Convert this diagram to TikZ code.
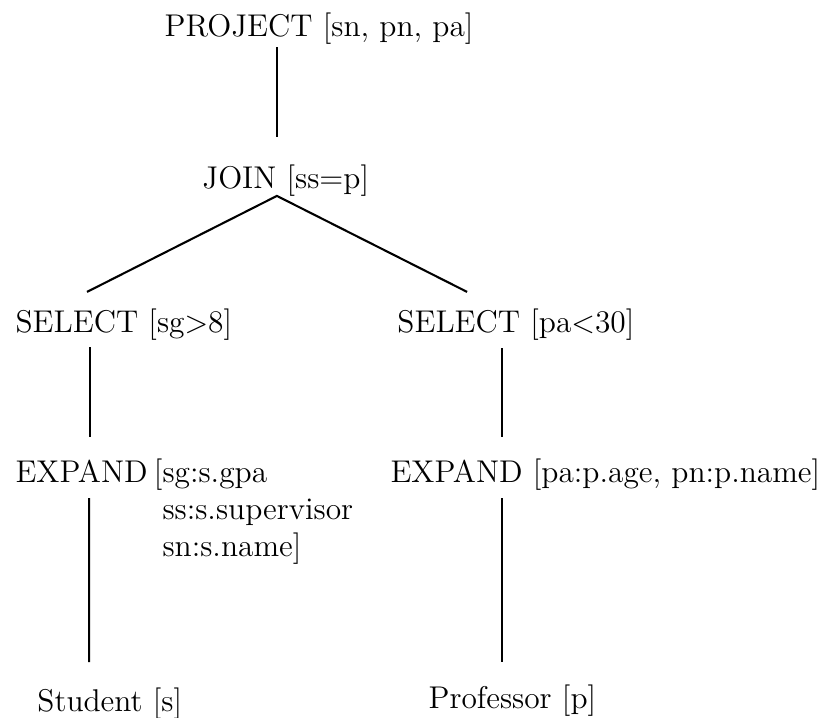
\documentclass[12pt,tikz,border=0pt]{standalone}
\usepackage{xcolor}
\usepackage{tikz}
\usetikzlibrary{calc}
\definecolor{ink}{HTML}{000000}
\tikzset{
  opnode/.style={anchor=base west,inner sep=0pt,text=ink,
                 font=\fontsize{11.35}{13.5}\selectfont},
  treeedge/.style={draw=ink,line width=0.75pt},
}

\begin{document}
\begin{tikzpicture}[x=1.083pt,y=1.083pt]
  \useasboundingbox(0,0)rectangle(275,-239);
  \node[opnode](proj)at(54.7,-12){PROJECT [sn, pn, pa]};
  \node[opnode](join)at(67.3,-62.7){JOIN [ss=p]};
  \node[opnode](sel1)at(5,-110.7){SELECT [sg$>$8]};
  \node[opnode](sel2)at(132.3,-110.7){SELECT [pa$<$30]};
  \node[opnode](exp1)at(5,-160.7){EXPAND\hspace{2.3pt}[\begin{tabular}[t]{@{}l@{}}
    sg:s.gpa\\ ss:s.supervisor\\ sn:s.name]\end{tabular}};
  \node[opnode](exp2)at(130,-160.7){EXPAND [pa:p.age, pn:p.name]};
  \node[opnode](stud)at(12.3,-237){Student [s]};
  \node[opnode](prof)at(142.7,-236.3){Professor [p]};
  \draw[treeedge]($(proj.base west)+(37.6,-3.7)$)--($(join.base west)+(25,17)$);
  \draw[treeedge]($(sel1.base west)+(24,13.4)$)--($(join.base west)+(25,-2.6)$)
    --($(sel2.base west)+(23.4,13.4)$);
  \draw[treeedge]($(sel1.base west)+(25,-5)$)--($(exp1.base west)+(25,15)$);
  \draw[treeedge]($(sel2.base west)+(35,-5.3)$)--($(exp2.base west)+(37.3,15)$);
  \draw[treeedge]($(exp1.base west)+(24.7,-5.3)$)--($(stud.base west)+(17.4,16.3)$);
  \draw[treeedge]($(exp2.base west)+(37.3,-5.3)$)--($(prof.base west)+(24.6,15.6)$);
\end{tikzpicture}
\end{document}
